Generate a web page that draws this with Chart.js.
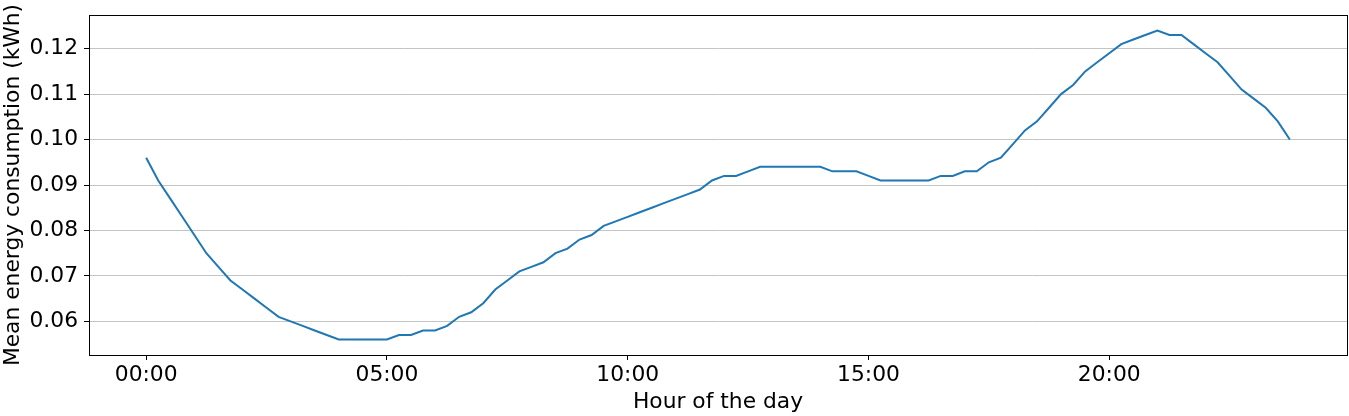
<!DOCTYPE html>
<html lang="en">
<head>
    <meta charset="UTF-8">
    <title>Mean energy consumption by hour of the day</title>
    <script src="https://cdn.jsdelivr.net/npm/chart.js"></script>
    <style>
        body { margin: 0; background: #fff; }
        .chart-container { position: relative; width: 1349px; height: 416px; }
    </style>
</head>
<body>
    <div class="chart-container"><canvas id="energy-chart"></canvas></div>

<script>
    // mean consumption (kWh) per 15-minute slot, 00:00 .. 23:45
    const meanEnergy = [
        0.096, 0.091, 0.087, 0.083, 0.079, 0.075, 0.072, 0.069,
        0.067, 0.065, 0.063, 0.061, 0.060, 0.059, 0.058, 0.057,
        0.056, 0.056, 0.056, 0.056, 0.056, 0.057, 0.057, 0.058,
        0.058, 0.059, 0.061, 0.062, 0.064, 0.067, 0.069, 0.071,
        0.072, 0.073, 0.075, 0.076, 0.078, 0.079, 0.081, 0.082,
        0.083, 0.084, 0.085, 0.086, 0.087, 0.088, 0.089, 0.091,
        0.092, 0.092, 0.093, 0.094, 0.094, 0.094, 0.094, 0.094,
        0.094, 0.093, 0.093, 0.093, 0.092, 0.091, 0.091, 0.091,
        0.091, 0.091, 0.092, 0.092, 0.093, 0.093, 0.095, 0.096,
        0.099, 0.102, 0.104, 0.107, 0.110, 0.112, 0.115, 0.117,
        0.119, 0.121, 0.122, 0.123, 0.124, 0.123, 0.123, 0.121,
        0.119, 0.117, 0.114, 0.111, 0.109, 0.107, 0.104, 0.100
    ];
    const xTickHours = [0, 5, 10, 15, 20];
    const yTicks = [0.06, 0.07, 0.08, 0.09, 0.10, 0.11, 0.12];

    const FONT = "'DejaVu Sans', sans-serif";
    const FONT_SIZE = 21.8;

    // slot i sits at i quarter-hours
    const points = meanEnergy.map((v, i) => ({ x: i / 4, y: v }));
    const lastHour = (meanEnergy.length - 1) / 4;
    const xMargin = lastHour * 0.05;
    const yMin = Math.min(...meanEnergy), yMax = Math.max(...meanEnergy);
    const yMargin = (yMax - yMin) * 0.05;

    // matplotlib-style box around the plot area
    const frame = {
        id: 'frame',
        afterDraw(chart) {
            const { ctx, chartArea: a } = chart;
            ctx.save();
            ctx.strokeStyle = '#000';
            ctx.lineWidth = 1;
            ctx.strokeRect(a.left + 0.5, a.top + 0.5, a.right - a.left, a.bottom - a.top);
            ctx.restore();
        }
    };

    new Chart(document.getElementById('energy-chart'), {
        type: 'line',
        data: {
            datasets: [{
                data: points,
                borderColor: '#1f77b4',
                borderWidth: 2,
                pointRadius: 0,
                tension: 0,
                fill: false
            }]
        },
        options: {
            responsive: true,
            maintainAspectRatio: false,
            animation: false,
            layout: { padding: { top: 15, right: 2, left: 0, bottom: 0 } },
            plugins: { legend: { display: false }, tooltip: { enabled: false } },
            scales: {
                x: {
                    type: 'linear',
                    min: -xMargin,
                    max: lastHour + xMargin,
                    afterBuildTicks: s => { s.ticks = xTickHours.map(v => ({ value: v })); },
                    afterFit: s => { s.height = 61; s.paddingLeft = 0; s.paddingRight = 0; },
                    grid: { drawOnChartArea: false, drawTicks: true, tickLength: 5, tickColor: '#000' },
                    border: { display: true, color: '#000', width: 1 },
                    ticks: {
                        color: '#000', padding: 2, font: { family: FONT, size: FONT_SIZE },
                        maxRotation: 0, autoSkip: false,
                        callback: v => String(v).padStart(2, '0') + ':00'
                    },
                    title: {
                        display: true, text: 'Hour of the day', color: '#000',
                        font: { family: FONT, size: FONT_SIZE }, padding: { top: 0, bottom: 1 }
                    }
                },
                y: {
                    min: yMin - yMargin,
                    max: yMax + yMargin,
                    afterBuildTicks: s => { s.ticks = yTicks.map(v => ({ value: v })); },
                    afterFit: s => { s.width = 89; s.paddingTop = 0; s.paddingBottom = 0; },
                    grid: { color: '#c4c4c4', lineWidth: 1, drawTicks: true, tickLength: 5, tickColor: '#000' },
                    border: { display: true, color: '#000', width: 1 },
                    ticks: {
                        color: '#000', padding: 6, font: { family: FONT, size: FONT_SIZE },
                        callback: v => v.toFixed(2)
                    },
                    title: {
                        display: true, text: 'Mean energy consumption (kWh)', color: '#000',
                        font: { family: FONT, size: FONT_SIZE }, padding: { top: 0, bottom: 0 }
                    }
                }
            }
        },
        plugins: [frame]
    });
</script>
</body>
</html>
